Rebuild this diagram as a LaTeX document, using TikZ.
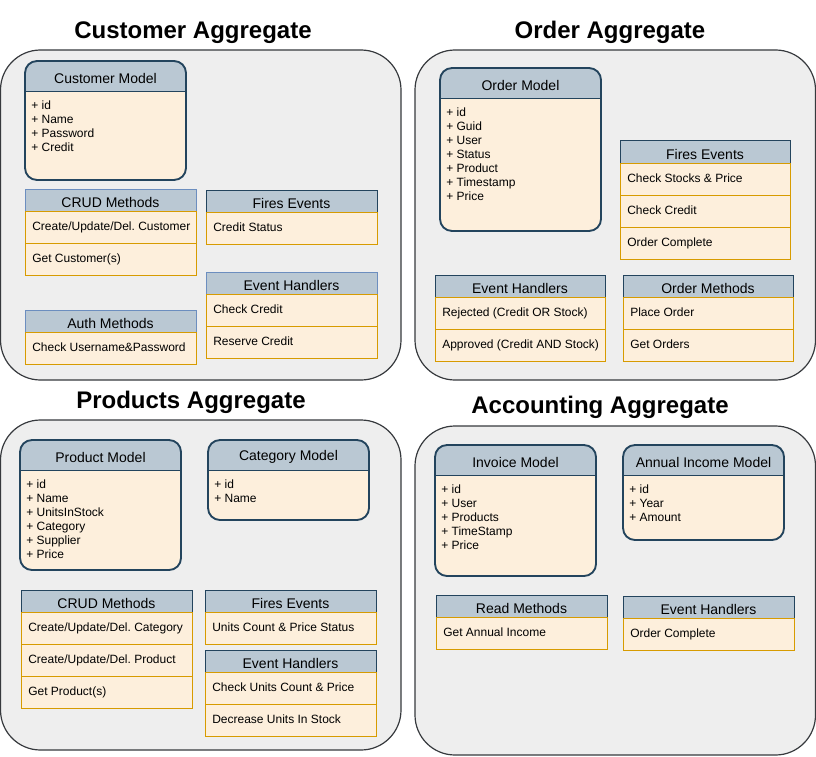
\documentclass[tikz,border=0pt]{standalone}
\usepackage{fontspec}
\setmainfont{Liberation Sans}
\frenchspacing
\definecolor{hdrfill}{HTML}{BAC8D3}
\definecolor{dkblue}{HTML}{23445D}
\definecolor{ltblue}{HTML}{6C8EBF}
\definecolor{peach}{HTML}{FDEFDC}
\definecolor{orng}{HTML}{D79B00}
\definecolor{contfill}{HTML}{EEEEEE}
\definecolor{contline}{HTML}{36393D}
\tikzset{
  cont/.style={draw=contline, fill=contfill, line width=0.9pt, rounded corners=30pt},
  agtitle/.style={font=\bfseries\fontsize{18}{20}\selectfont, inner sep=0},
  hdrtext/.style={font=\fontsize{10.5}{12}\selectfont, inner sep=0},
  rowtext/.style={font=\fontsize{9}{10.5}\selectfont, inner sep=0},
  attrtext/.style={font=\fontsize{9}{10.5}\selectfont, inner sep=0, align=left, anchor=north west},
  rowbox/.style={draw=orng, fill=peach, line width=0.75pt},
  modelline/.style={draw=dkblue, line width=1.4pt},
}
\newcommand\modelbox[7]{%
  \fill[peach,rounded corners=9pt] (#2,#3) rectangle (#4,#5);
  \begin{scope}
    \clip (#2,#3) rectangle (#4,#3+30.5);
    \fill[hdrfill,rounded corners=9pt] (#2,#3) rectangle (#4,#5);
  \end{scope}
  \draw[modelline] (#2,#3+30.5) -- (#4,#3+30.5);
  \draw[modelline,rounded corners=9pt] (#2,#3) rectangle (#4,#5);
  \node[hdrtext] (#1-h) at ({(#2+#4)/2},#3+17) {#6};
  \node[attrtext] (#1-a) at (#2+6,#3+30.5+9.5) {#7};
}
\newcommand\tablebox[7]{%
  \fill[hdrfill] (#2,#4) rectangle (#3,#4+22);
  \draw[#5,line width=0.75pt] (#2,#4) rectangle (#3,#4+22);
  \node[hdrtext] (#1-h) at ({(#2+#3)/2},#4+13) {#6};
  \foreach \r [count=\i] in {#7} {
    \draw[rowbox] (#2,{#4+22+32*(\i-1)}) rectangle (#3,{#4+22+32*\i});
    \node[rowtext,anchor=base west] (#1-r\i) at (#2+7,{#4+22+32*(\i-1)+19.5}) {\r};
  }
}
\begin{document}
\begin{tikzpicture}[x=0.75pt,y=-0.75pt]
\useasboundingbox (0,0) rectangle (816,756);
% ---------- Customer Aggregate ----------
\node[agtitle] (t-cust) at (193,32.5) {Customer Aggregate};
\draw[cont] (0.5,50) rectangle (401,380);
\modelbox{cm}{25}{61}{186}{180}{Customer Model}{+ id\\+ Name\\+ Password\\+ Credit}
\tablebox{ccrud}{25}{196}{189}{ltblue}{CRUD Methods}{Create/Update/Del. Customer, Get Customer(s)}
\tablebox{cfire}{206}{377}{190}{dkblue}{Fires Events}{Credit Status}
\tablebox{ceh}{206}{377}{272}{ltblue}{Event Handlers}{Check Credit, Reserve Credit}
\tablebox{cauth}{25}{196}{310}{ltblue}{Auth Methods}{Check Username\&Password}
% ---------- Order Aggregate ----------
\node[agtitle] (t-order) at (610,32.5) {Order Aggregate};
\draw[cont] (415,50) rectangle (815.5,380);
\modelbox{om}{440}{68}{601}{231}{Order Model}{+ id\\+ Guid\\+ User\\+ Status\\+ Product\\+ Timestamp\\+ Price}
\tablebox{ofire}{620}{790}{141}{dkblue}{Fires Events}{Check Stocks \& Price, Check Credit, Order Complete}
\tablebox{oeh}{435}{605}{275}{dkblue}{Event Handlers}{Rejected (Credit OR Stock), Approved (Credit AND Stock)}
\tablebox{ometh}{623}{793}{275}{dkblue}{Order Methods}{Place Order, Get Orders}
% ---------- Products Aggregate ----------
\node[agtitle] (t-prod) at (191,402.5) {Products Aggregate};
\draw[cont] (0.5,420) rectangle (401,750);
\modelbox{pm}{20}{440}{181}{570}{Product Model}{+ id\\+ Name\\+ UnitsInStock\\+ Category\\+ Supplier\\+ Price}
\modelbox{catm}{208}{440}{369}{520}{Category Model}{+ id\\+ Name}
\tablebox{pcrud}{21}{192}{590}{dkblue}{CRUD Methods}{Create/Update/Del. Category, Create/Update/Del. Product, Get Product(s)}
\tablebox{pfire}{205}{376}{590}{dkblue}{Fires Events}{Units Count \& Price Status}
\tablebox{peh}{205}{376}{650}{dkblue}{Event Handlers}{Check Units Count \& Price, Decrease Units In Stock}
% ---------- Accounting Aggregate ----------
\node[agtitle] (t-acc) at (600,407.5) {Accounting Aggregate};
\draw[cont] (415,426) rectangle (815.5,755);
\modelbox{im}{435}{445}{596}{576}{Invoice Model}{+ id\\+ User\\+ Products\\+ TimeStamp\\+ Price}
\modelbox{aim}{623}{445}{784}{540}{Annual Income Model}{+ id\\+ Year\\+ Amount}
\tablebox{aread}{436}{607}{595}{dkblue}{Read Methods}{Get Annual Income}
\tablebox{aeh}{623}{794}{596}{dkblue}{Event Handlers}{Order Complete}
\end{tikzpicture}
\end{document}
